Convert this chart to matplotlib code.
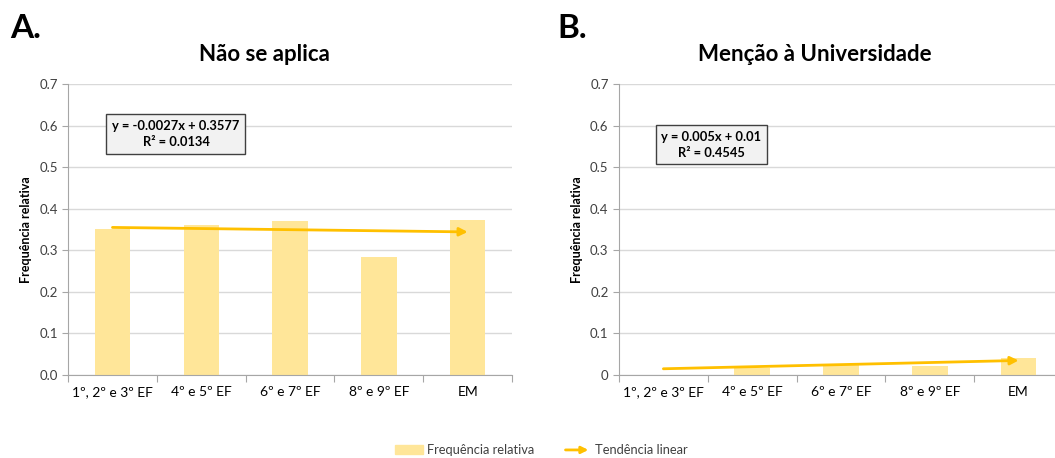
import numpy as np
import matplotlib.pyplot as plt
from matplotlib.patches import Patch, FancyArrowPatch
from matplotlib.legend_handler import HandlerPatch

plt.rcParams['font.family'] = ['Lato', 'DejaVu Sans']

categorias = ['1º, 2º e 3º EF', '4º e 5º EF', '6º e 7º EF', '8º e 9º EF', 'EM']
freq_nao_aplica = [0.351, 0.362, 0.370, 0.284, 0.373]
freq_universidade = [0.0, 0.017, 0.025, 0.021, 0.040]

# coeficientes das retas de tendência (como no gráfico)
tend_a = (-0.0027, 0.3577, 0.0134)
tend_b = (0.005, 0.01, 0.4545)

cor_barra = '#FFE699'
cor_linha = '#FFC000'


class HandlerArrow(HandlerPatch):
    def create_artists(self, legend, orig_handle, xdescent, ydescent,
                       width, height, fontsize, trans):
        p = FancyArrowPatch((-xdescent, height / 2), (width - xdescent, height / 2),
                            arrowstyle='-|>', mutation_scale=10, lw=2,
                            color=cor_linha, transform=trans)
        return [p]


def painel(ax, valores, tend, titulo, rotulos_y, caixa_xy):
    x = np.arange(1, len(categorias) + 1)
    ax.bar(x, valores, width=0.4, color=cor_barra, zorder=2)
    m, b, r2 = tend
    ax.annotate('', xy=(x[-1], m * x[-1] + b), xytext=(x[0], m * x[0] + b),
                arrowprops=dict(arrowstyle='-|>', color=cor_linha, lw=2,
                                mutation_scale=12, shrinkA=0, shrinkB=0),
                zorder=3)
    ax.set_xlim(0.5, len(categorias) + 0.5)
    ax.set_ylim(0, 0.7)
    ax.set_yticks(np.arange(0, 0.71, 0.1))
    ax.set_yticklabels(rotulos_y)
    ax.set_xticks(np.arange(0.5, len(categorias) + 1, 1))
    ax.set_xticklabels([])
    ax.set_xticks(x, minor=True)
    ax.set_xticklabels(categorias, minor=True)
    ax.tick_params(axis='x', which='minor', length=0, pad=8)
    ax.tick_params(axis='x', which='major', length=5, color='#A6A6A6')
    ax.tick_params(axis='y', length=4, color='#A6A6A6')
    ax.tick_params(labelsize=9.5, labelcolor='#404040')
    ax.grid(axis='y', color='#D9D9D9', lw=1, zorder=0)
    for s in ['top', 'right']:
        ax.spines[s].set_visible(False)
    for s in ['left', 'bottom']:
        ax.spines[s].set_color('#A6A6A6')
    ax.set_ylabel('Frequência relativa', fontsize=9, fontweight='bold', labelpad=5)
    ax.text(0.442, 1.079, titulo, transform=ax.transAxes, ha='center', va='baseline',
            fontsize=16, fontweight='bold')
    sinal = '-' if m < 0 else ''
    txt = f'y = {sinal}{abs(m):g}x + {b:g}\nR² = {r2:g}'
    ax.text(caixa_xy[0], caixa_xy[1], txt, transform=ax.transAxes,
            ha='center', va='center', fontsize=9.3, fontweight='bold',
            linespacing=1.4,
            bbox=dict(boxstyle='square,pad=0.45', fc='#F2F2F2', ec='#404040', lw=1))


fig = plt.figure(figsize=(10.55, 4.58), dpi=100)
ax_a = fig.add_axes([0.0645, 0.1812, 0.4209, 0.6354])
ax_b = fig.add_axes([0.5867, 0.1812, 0.4209, 0.6354])

painel(ax_a, freq_nao_aplica, tend_a, 'Não se aplica',
       [f'{v:.1f}' for v in np.arange(0, 0.71, 0.1)], (0.243, 0.828))
painel(ax_b, freq_universidade, tend_b, 'Menção à Universidade',
       ['0'] + [f'{v:.1f}' for v in np.arange(0.1, 0.71, 0.1)], (0.208, 0.792))

fig.text(0.010, 1 - 38 / 458, 'A.', fontsize=24, fontweight='bold', va='baseline')
fig.text(0.528, 1 - 38 / 458, 'B.', fontsize=24, fontweight='bold', va='baseline')

handles = [Patch(color=cor_barra, label='Frequência relativa'),
           FancyArrowPatch((0, 0), (1, 0), color=cor_linha, label='Tendência linear')]
fig.legend(handles=handles, loc='lower center', bbox_to_anchor=(0.513, -0.022),
           ncol=2, frameon=False, fontsize=9.3, handlelength=2.2, handletextpad=0.3,
           columnspacing=2.2, handler_map={FancyArrowPatch: HandlerArrow()},
           labelcolor='#404040')

fig.savefig('out.png', dpi=100)
